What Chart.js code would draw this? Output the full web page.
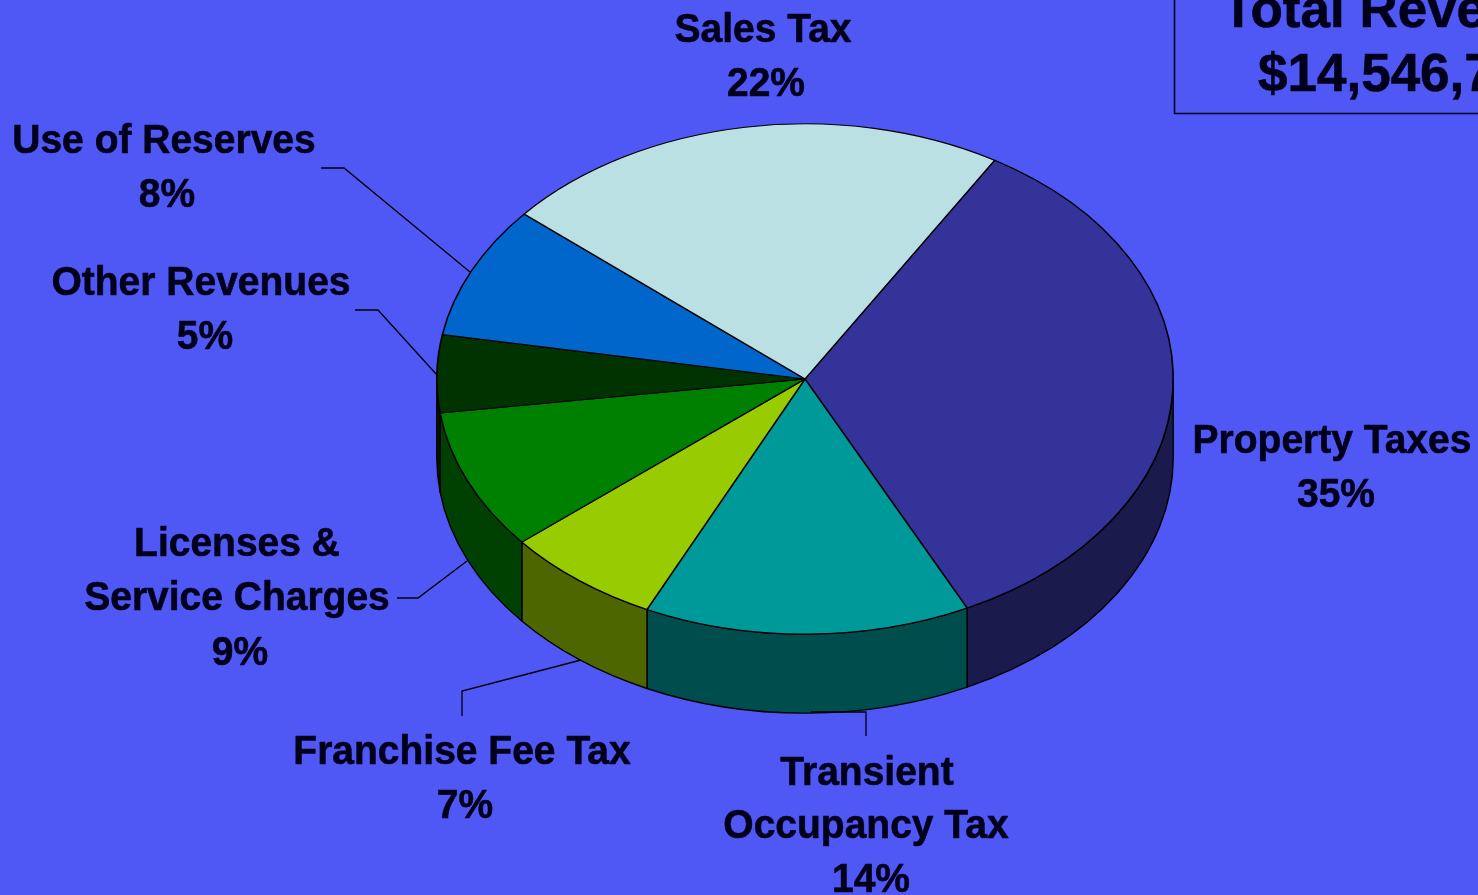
<!DOCTYPE html>
<html>
<head>
<meta charset="utf-8">
<title>Total Revenues</title>
<style>
html,body{margin:0;padding:0;background:#4f58f5;overflow:hidden}
canvas{display:block}
</style>
<script src="https://cdn.jsdelivr.net/npm/chart.js@4"></script>
</head>
<body>
<canvas id="c" width="1478" height="895"></canvas>
<script>
const categories = ['Property Taxes','Transient Occupancy Tax','Franchise Fee Tax','Licenses & Service Charges','Other Revenues','Use of Reserves','Sales Tax'];
const categoryLines = [['Property Taxes'],['Transient','Occupancy Tax'],['Franchise Fee Tax'],['Licenses &','Service Charges'],['Other Revenues'],['Use of Reserves'],['Sales Tax']];
const percentLabels = ['35%','14%','7%','9%','5%','8%','22%'];
const sliceShares = [34.1,14.3,6.9,8.9,4.9,8.4,22.4];
const faceColors = ['#333399','#009999','#99cc00','#008000','#003300','#0066cc','#bbe0e3'];
const sideColors = ['#1a1a4d','#004d4d','#4d6600','#004000','#001a00','#003366','#5e7072'];
const totalTitle = 'Total Reve';
const totalValue = '$14,546,7';

const BG = '#4f58f5', INK = '#00001a';
const TILT = 0.693, DEPTH = 79;

const labelAnchors = [
  [[1332,453],[1336,507]],
  [[867,785],[866,838],[871,892]],
  [[462,764],[465,818]],
  [[237,556],[237,610],[240,665]],
  [[201,295],[205,349]],
  [[164,153],[167,207]],
  [[763,42],[766,96]]
];
const leaders = [
  [[321,168],[344,168],[470,272]],
  [[355,310],[378,310],[437,375]],
  [[397,598],[418,598],[467,561]],
  [[462,716],[462,691],[581,660]],
  [[866,736],[866,712],[811,712]]
];

function heavyText(ctx,t,x,y,sx){
  ctx.save();
  ctx.translate(x,y); ctx.scale(sx,1);
  ctx.fillText(t,0,0);
  ctx.strokeText(t,0,0);
  ctx.restore();
}

const tiltedPie = {
  id:'tiltedPie',
  beforeDraw(chart){
    const {ctx,width,height} = chart;
    ctx.save(); ctx.fillStyle = BG; ctx.fillRect(0,0,width,height); ctx.restore();
  },
  beforeDatasetsDraw(chart){
    const {ctx} = chart;
    const arcs = chart.getDatasetMeta(0).data;
    const TAU = Math.PI*2;
    const first = arcs[0];
    const cx = first.x, cy = first.y, R = first.outerRadius;
    ctx.save();
    ctx.lineWidth = 1.4; ctx.strokeStyle = '#000'; ctx.lineJoin = 'round';
    arcs.forEach((arc,i)=>{
      let a0 = arc.startAngle, a1 = arc.endAngle;
      while (a0 < 0){ a0 += TAU; a1 += TAU; }
      while (a0 >= TAU){ a0 -= TAU; a1 -= TAU; }
      [[a0,a1],[a0-TAU,a1-TAU]].forEach(([s,e])=>{
        const from = Math.max(s,0), to = Math.min(e,Math.PI);
        if (to <= from) return;
        ctx.beginPath();
        ctx.ellipse(cx,cy,R,R*TILT,0,from,to);
        ctx.ellipse(cx,cy+DEPTH,R,R*TILT,0,to,from,true);
        ctx.closePath();
        ctx.fillStyle = sideColors[i];
        ctx.fill(); ctx.stroke();
      });
    });
    ctx.restore();
    ctx.save();
    ctx.translate(cx,cy); ctx.scale(1,TILT); ctx.translate(-cx,-cy);
  },
  afterDatasetsDraw(chart){ chart.ctx.restore(); },
  afterDraw(chart){
    const {ctx,width} = chart;
    ctx.save();
    ctx.strokeStyle = '#000'; ctx.lineWidth = 1.3;
    leaders.forEach(pts=>{
      ctx.beginPath();
      pts.forEach(([x,y],k)=> k ? ctx.lineTo(x,y) : ctx.moveTo(x,y));
      ctx.stroke();
    });
    ctx.lineWidth = 1.6; ctx.strokeStyle = '#00001a';
    ctx.beginPath(); ctx.moveTo(1174.5,0); ctx.lineTo(1174.5,113.5); ctx.lineTo(width,113.5); ctx.stroke();
    ctx.fillStyle = INK; ctx.strokeStyle = INK; ctx.lineWidth = 0.6; ctx.lineJoin = 'round';
    ctx.textBaseline = 'alphabetic';
    ctx.font = 'bold 41px "Liberation Sans", Arial, sans-serif';
    ctx.textAlign = 'center';
    categoryLines.forEach((lines,i)=>{
      lines.concat(percentLabels[i]).forEach((t,k)=>{
        const [x,y] = labelAnchors[i][k];
        heavyText(ctx,t,x,y,0.951);
      });
    });
    ctx.font = 'bold 53px "Liberation Sans", Arial, sans-serif';
    ctx.textAlign = 'left';
    heavyText(ctx,totalTitle,1222,27,1);
    heavyText(ctx,totalValue,1258,91,1);
    ctx.restore();
  }
};

new Chart(document.getElementById('c'),{
  type:'pie',
  data:{labels:categories,datasets:[{
    data:sliceShares,
    backgroundColor:faceColors,
    borderColor:'#000',
    borderWidth:1.6,
    clip:false
  }]},
  options:{
    responsive:false,
    animation:false,
    rotation:31,
    layout:{padding:{left:436,right:304,top:10,bottom:147}},
    plugins:{legend:{display:false},tooltip:{enabled:false},title:{display:false}}
  },
  plugins:[tiltedPie]
});
</script>
</body>
</html>
